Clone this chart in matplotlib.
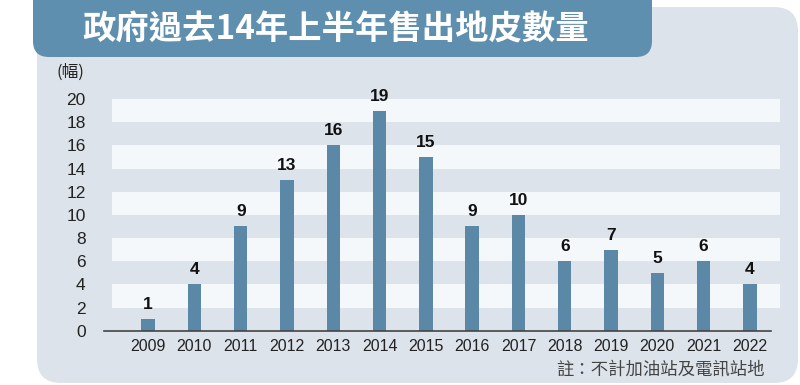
import matplotlib
matplotlib.use("Agg")
import matplotlib.pyplot as plt
from matplotlib.patches import FancyBboxPatch

# data
years = ['2009', '2010', '2011', '2012', '2013', '2014', '2015',
         '2016', '2017', '2018', '2019', '2020', '2021', '2022']
sites_sold = [1, 4, 9, 13, 16, 19, 15, 9, 10, 6, 7, 5, 6, 4]
y_ticks = list(range(0, 21, 2))

title = '政府過去14年上半年售出地皮數量'
unit_label = '(幅)'
footnote = '註：不計加油站及電訊站地'

panel_color = '#dde3ea'
band_color = '#f5f8fb'
banner_color = '#5f8fae'
bar_color = '#5b88a6'
cjk = ['Noto Sans CJK TC', 'DejaVu Sans']
latin = ['Liberation Sans', 'DejaVu Sans']

fig = plt.figure(figsize=(8, 3.85), dpi=100)
fig.patch.set_facecolor('white')

# background layer in pixel units
bg = fig.add_axes([0, 0, 1, 1])
bg.set_xlim(0, 800)
bg.set_ylim(385, 0)
bg.axis('off')
bg.add_patch(FancyBboxPatch((37, 7), 761, 376, boxstyle='round,pad=0,rounding_size=24',
                            fc=panel_color, ec='none'))
bg.add_patch(FancyBboxPatch((33, -20), 619, 77, boxstyle='round,pad=0,rounding_size=16',
                            fc=banner_color, ec='none'))
bg.text(336, 30, title, color='white', fontsize=24, fontweight='heavy',
        family=cjk, ha='center', va='center')
bg.text(70, 72, unit_label, color='#222', fontsize=12, family=cjk, ha='center', va='center')
bg.text(765, 370, footnote, color='#444', fontsize=12.5, family=cjk, ha='right', va='center')

# chart
ax = fig.add_axes([112 / 800, 54.3 / 385, 668 / 800, 231.7 / 385])
ax.set_facecolor('none')
for lo in range(2, 20, 4):
    ax.axhspan(lo, lo + 2, color=band_color, zorder=0, lw=0)

x = range(len(years))
ax.bar(x, sites_sold, width=0.29, color=bar_color, zorder=2)
for i, v in zip(x, sites_sold):
    ax.annotate(str(v), (i, v), xytext=(0, 5), textcoords='offset points',
                ha='center', va='bottom', fontsize=12.5, fontweight='bold',
                family=latin, color='#111')

ax.set_xlim(-0.78, 13.65)
ax.set_ylim(0, 20)
ax.set_xticks(list(x))
ax.set_xticklabels(years, family=latin, fontsize=11.5, color='#222')
ax.set_yticks(y_ticks)
ax.set_yticklabels([str(t) for t in y_ticks], family=latin, fontsize=12.5, color='#222')
ax.tick_params(axis='y', length=0, pad=19)
ax.tick_params(axis='x', length=0, pad=6)
for s in ax.spines.values():
    s.set_visible(False)
ax.plot([-0.012, 0.987], [0, 0], transform=ax.get_yaxis_transform(),
        color='#444', lw=1.2, clip_on=False, zorder=3)

fig.savefig('out.png', dpi=100)
